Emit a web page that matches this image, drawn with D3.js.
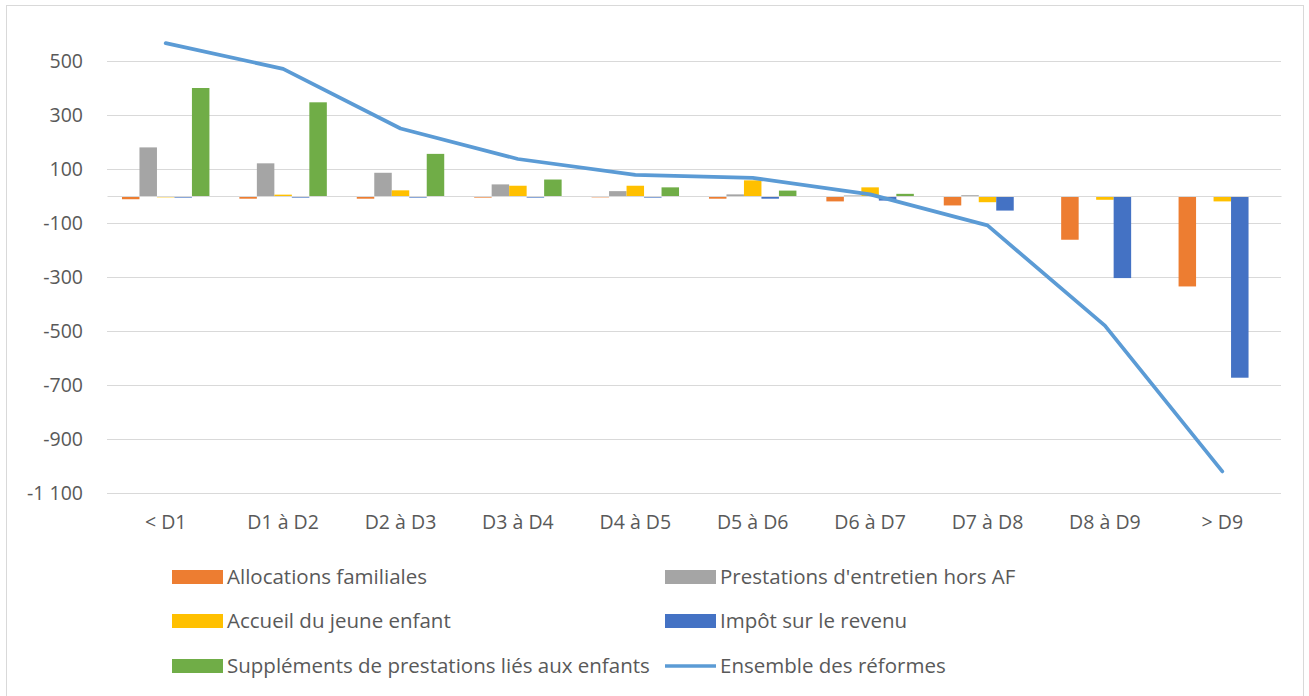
<!DOCTYPE html>
<html>
<head>
<meta charset="utf-8">
<script src="https://cdn.jsdelivr.net/npm/d3@7"></script>
<style>
  body { margin: 0; background: #fff; }
  text { font-family: "Open Sans", sans-serif; fill: #595959; }
</style>
</head>
<body>
<div id="chart-container"></div>
<script>
const categories = ['< D1', 'D1 à D2', 'D2 à D3', 'D3 à D4', 'D4 à D5', 'D5 à D6', 'D6 à D7', 'D7 à D8', 'D8 à D9', '> D9'];

const allocationsFamiliales = [-12, -10, -10, -6, -5, -10, -20, -35, -162, -335];
const prestationsEntretien = [180, 121, 86, 43, 18, 6, 2, 3, 0, 0];
const accueilJeuneEnfant = [-5, 5, 21, 38, 38, 58, 32, -23, -14, -20];
const impotRevenu = [-6, -6, -6, -6, -6, -10, -17, -54, -304, -673];
const supplementsEnfants = [400, 347, 156, 61, 32, 20, 8, 0, 0, 0];
const ensembleReformes = [566, 471, 250, 137, 78, 67, 6, -109, -480, -1020];

const yTicks = [500, 300, 100, -100, -300, -500, -700, -900, -1100];

const barSeries = [
  { name: 'Allocations familiales', values: allocationsFamiliales, color: '#ED7D31' },
  { name: "Prestations d'entretien hors AF", values: prestationsEntretien, color: '#A5A5A5' },
  { name: 'Accueil du jeune enfant', values: accueilJeuneEnfant, color: '#FFC000' },
  { name: 'Impôt sur le revenu', values: impotRevenu, color: '#4472C4' },
  { name: 'Suppléments de prestations liés aux enfants', values: supplementsEnfants, color: '#70AD47' }
];
const lineName = 'Ensemble des réformes';
const lineColor = '#5B9BD5';

const width = 1309, height = 696;
const plot = { left: 107, right: 1281, top: 34, bottom: 493 };

const svg = d3.select('#chart-container')
  .append('svg')
  .attr('width', width)
  .attr('height', height);

// chart frame
svg.append('rect')
  .attr('x', 6.5).attr('y', 5.5)
  .attr('width', 1297).attr('height', 700)
  .attr('fill', 'none')
  .attr('stroke', '#D9D9D9');

const xScale = d3.scaleBand()
  .domain(categories)
  .range([plot.left, plot.right])
  .paddingInner(0.255)
  .paddingOuter(0.1275);

const xInner = d3.scaleBand()
  .domain(barSeries.map(s => s.name))
  .range([0, xScale.bandwidth()]);

const yScale = d3.scaleLinear()
  .domain([-1100, 600])
  .range([plot.bottom, plot.top]);

// gridlines
svg.append('g')
  .attr('class', 'grid')
  .attr('transform', `translate(${plot.left},0)`)
  .call(d3.axisLeft(yScale).tickValues(yTicks).tickSize(-(plot.right - plot.left)).tickFormat(''))
  .call(g => g.select('.domain').remove())
  .call(g => g.selectAll('line').attr('stroke', '#D9D9D9'));

// y labels
const fmt = v => d3.format(',')(v).replace(',', ' ').replace('−', '-');
svg.append('g')
  .attr('class', 'y-axis')
  .attr('transform', `translate(${plot.left},0)`)
  .call(d3.axisLeft(yScale).tickValues(yTicks).tickSize(0).tickPadding(24).tickFormat(fmt))
  .call(g => g.select('.domain').remove())
  .call(g => g.selectAll('text').style('font-size', '19.5px').attr('fill', '#595959'));

// bars
barSeries.forEach(s => {
  svg.append('g')
    .selectAll('rect')
    .data(s.values)
    .enter().append('rect')
    .attr('x', (d, i) => xScale(categories[i]) + xInner(s.name))
    .attr('y', d => yScale(Math.max(0, d)))
    .attr('width', xInner.bandwidth())
    .attr('height', d => Math.abs(yScale(d) - yScale(0)))
    .attr('fill', s.color);
});

// zero axis line
svg.append('g')
  .attr('class', 'x-axis')
  .attr('transform', `translate(0,${yScale(0)})`)
  .call(d3.axisBottom(xScale).tickSize(0).tickFormat(''))
  .call(g => g.select('.domain').attr('stroke', '#D9D9D9'));

// category labels
svg.append('g')
  .attr('transform', `translate(0,${plot.bottom})`)
  .call(d3.axisBottom(xScale).tickSize(0).tickPadding(22))
  .call(g => g.select('.domain').remove())
  .call(g => g.selectAll('text').style('font-size', '19.5px').attr('fill', '#595959'));

// line
const line = d3.line()
  .x((d, i) => xScale(categories[i]) + xScale.bandwidth() / 2)
  .y(d => yScale(d));

svg.append('path')
  .datum(ensembleReformes)
  .attr('fill', 'none')
  .attr('stroke', lineColor)
  .attr('stroke-width', 3.75)
  .attr('stroke-linejoin', 'round')
  .attr('stroke-linecap', 'round')
  .attr('d', line);

// legend
const legendItems = barSeries.map(s => ({ name: s.name, color: s.color, type: 'bar' }))
  .concat([{ name: lineName, color: lineColor, type: 'line' }]);
const colX = [172, 665];
const rowY = [577, 621, 666];

const legend = svg.append('g').attr('class', 'legend');
legendItems.forEach((item, i) => {
  const g = legend.append('g')
    .attr('transform', `translate(${colX[i % 2]},${rowY[Math.floor(i / 2)]})`);
  if (item.type === 'bar') {
    g.append('rect').attr('x', 0).attr('y', -7).attr('width', 51).attr('height', 14).attr('fill', item.color);
  } else {
    g.append('line').attr('x1', 0).attr('x2', 51).attr('y1', 0).attr('y2', 0)
      .attr('stroke', item.color).attr('stroke-width', 3.5);
  }
  g.append('text')
    .attr('x', 55)
    .attr('dy', '0.35em')
    .style('font-size', '20.5px')
    .text(item.name);
});
</script>
</body>
</html>
